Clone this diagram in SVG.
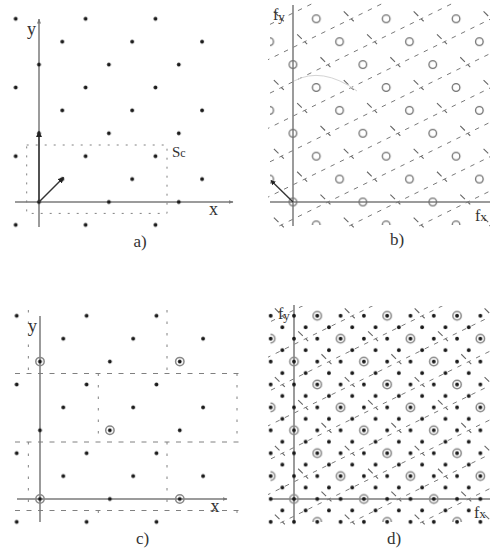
<svg xmlns="http://www.w3.org/2000/svg" width="490" height="548" viewBox="0 0 490 548">
<style>
.lbl{font-family:"Liberation Serif","Times New Roman",serif;fill:#333}
.axis{stroke:#7a7a7a;stroke-width:1.5;fill:none}
.vec{stroke:#333;stroke-width:1.4;fill:none}
.dot{fill:#1a1a1a}
.ring{fill:none;stroke:#888;stroke-width:1.5}
.hc{fill:none;stroke:#707070;stroke-width:1.3}
.cellh{stroke:#808080;stroke-width:1;stroke-dasharray:5 6.5;fill:none}
.cellv{stroke:#808080;stroke-width:1;stroke-dasharray:2.5 9;fill:none}
.sc{stroke:#808080;stroke-width:1;stroke-dasharray:2 7;fill:none}
.la{stroke:#7a7a7a;stroke-width:1;stroke-dasharray:4.5 5.884;stroke-dashoffset:7.442;fill:none}
.lb{stroke:#666;stroke-width:1.1;stroke-dasharray:3.5 18.67 6.5 4;fill:none}
</style>
<defs>
<marker id="arr" viewBox="0 0 10 10" refX="9" refY="5" markerWidth="6" markerHeight="6" markerUnits="userSpaceOnUse" orient="auto"><path d="M0,0 L10,5 L0,10 z" fill="#222"/></marker>
<marker id="arrs" viewBox="0 0 10 10" refX="9" refY="5" markerWidth="5" markerHeight="5" markerUnits="userSpaceOnUse" orient="auto"><path d="M0,0 L10,5 L0,10 z" fill="#222"/></marker>
<marker id="ax" viewBox="0 0 10 10" refX="9" refY="5" markerWidth="5" markerHeight="5" markerUnits="userSpaceOnUse" orient="auto"><path d="M0,1 L10,5 L0,9 z" fill="#7a7a7a"/></marker>
<pattern id="pa" patternUnits="userSpaceOnUse" x="27.35" y="144.75" width="69.9" height="68.7">
<circle class="dot" cx="11.65" cy="57.25" r="1.9"/><circle class="dot" cx="34.95" cy="34.35" r="1.9"/><circle class="dot" cx="58.25" cy="11.45" r="1.9"/>
</pattern>
<pattern id="pc" patternUnits="userSpaceOnUse" x="28.35" y="441.75" width="69.9" height="68.7">
<circle class="dot" cx="11.65" cy="57.25" r="1.9"/><circle class="dot" cx="34.95" cy="34.35" r="1.9"/><circle class="dot" cx="58.25" cy="11.45" r="1.9"/>
</pattern>
<pattern id="pb" patternUnits="userSpaceOnUse" x="281.35" y="190.55" width="69.9" height="68.7">
<circle class="hc" cx="11.65" cy="11.45" r="3.8"/><circle class="hc" cx="34.95" cy="34.35" r="3.8"/><circle class="hc" cx="58.25" cy="57.25" r="3.8"/>
</pattern>
<pattern id="pdr" patternUnits="userSpaceOnUse" x="282.35" y="487.55" width="69.9" height="68.7">
<circle class="ring" cx="11.65" cy="11.45" r="4.2"/><circle class="ring" cx="34.95" cy="34.35" r="4.2"/><circle class="ring" cx="58.25" cy="57.25" r="4.2"/>
</pattern>
<pattern id="pd" patternUnits="userSpaceOnUse" x="288.175" y="493.275" width="23.3" height="22.9">
<circle class="dot" cx="5.825" cy="5.725" r="1.9"/><circle class="dot" cx="17.475" cy="17.175" r="1.9"/>
</pattern>
<g id="cells">
<line class="la" x1="-454.35" y1="34.35" x2="81.55" y2="-229"/>
<line class="la" x1="-384.45" y1="34.35" x2="151.45" y2="-229"/>
<line class="la" x1="-314.55" y1="34.35" x2="221.35" y2="-229"/>
<line class="la" x1="-244.65" y1="34.35" x2="291.25" y2="-229"/>
<line class="la" x1="-174.75" y1="34.35" x2="361.15" y2="-229"/>
<line class="la" x1="-104.85" y1="34.35" x2="431.05" y2="-229"/>
<line class="la" x1="-34.95" y1="34.35" x2="500.95" y2="-229"/>
<line class="la" x1="34.95" y1="34.35" x2="570.85" y2="-229"/>
<line class="la" x1="104.85" y1="34.35" x2="640.75" y2="-229"/>
<line class="la" x1="174.75" y1="34.35" x2="710.65" y2="-229"/>
<line class="lb" x1="-267.95" y1="-229" x2="0" y2="34.35"/>
<line class="lb" x1="-198.05" y1="-229" x2="69.9" y2="34.35"/>
<line class="lb" x1="-128.15" y1="-229" x2="139.8" y2="34.35"/>
<line class="lb" x1="-58.25" y1="-229" x2="209.7" y2="34.35"/>
<line class="lb" x1="11.65" y1="-229" x2="279.6" y2="34.35"/>
<line class="lb" x1="81.55" y1="-229" x2="349.5" y2="34.35"/>
<line class="lb" x1="151.45" y1="-229" x2="419.4" y2="34.35"/>
</g>
<clipPath id="clipb"><rect x="268" y="3" width="222" height="225"/></clipPath>
<clipPath id="clipd"><rect x="268" y="306" width="222" height="219"/></clipPath>
</defs>
<rect width="490" height="548" fill="#fff"/>

<g id="panel-a">
<rect class="sc" x="26.7" y="145" width="140.3" height="68.4"/>
<line class="axis" x1="15" y1="202" x2="233" y2="202" marker-end="url(#ax)"/>
<line class="axis" x1="39" y1="227" x2="39" y2="19" marker-end="url(#ax)"/>
<rect x="8" y="10" width="202" height="222" fill="url(#pa)"/>
<line class="vec" x1="39" y1="202" x2="39" y2="131.5" marker-end="url(#arr)"/>
<line class="vec" x1="39" y1="202" x2="63.5" y2="177.5" marker-end="url(#arr)"/>
<text class="lbl" x="27" y="35" font-size="18">y</text>
<text class="lbl" x="209" y="215" font-size="18">x</text>
<text class="lbl" x="172" y="157" font-size="15">S<tspan font-size="12">c</tspan></text>
<text class="lbl" x="140" y="247" font-size="17" text-anchor="middle">a)</text>
</g>

<g id="panel-b">
<g id="cells-b" clip-path="url(#clipb)"><use href="#cells" transform="translate(293,202)"/></g>
<path d="M294,81 Q322,66 357,91" fill="none" stroke="#d4d4d4" stroke-width="1"/>
<line class="axis" x1="293" y1="226" x2="293" y2="5"/>
<line class="axis" x1="270" y1="202" x2="490" y2="202"/>
<rect x="270" y="4" width="220" height="221" fill="url(#pb)"/>
<line class="vec" x1="293" y1="202" x2="271" y2="180.5" marker-end="url(#arrs)"/>
<text class="lbl" x="273" y="20" font-size="16">f<tspan font-size="13" dy="1">y</tspan></text>
<text class="lbl" x="475" y="221" font-size="16">f<tspan font-size="13">x</tspan></text>
<text class="lbl" x="397" y="245" font-size="17" text-anchor="middle">b)</text>
</g>

<g id="panel-c">
<g id="cells-c">
<line class="cellh" x1="15" y1="373.5" x2="240" y2="373.5"/>
<line class="cellh" x1="15" y1="442" x2="240" y2="442"/>
<line class="cellh" x1="15" y1="510.5" x2="240" y2="510.5"/>
<line class="cellv" x1="28.35" y1="310" x2="28.35" y2="373.5"/>
<line class="cellv" x1="28.35" y1="442" x2="28.35" y2="510.5"/>
<line class="cellv" x1="167" y1="310" x2="167" y2="373.5"/>
<line class="cellv" x1="167" y1="442" x2="167" y2="510.5"/>
<line class="cellv" x1="98.3" y1="373.5" x2="98.3" y2="442"/>
<line class="cellv" x1="98.3" y1="510.5" x2="98.3" y2="522"/>
<line class="cellv" x1="237" y1="373.5" x2="237" y2="442"/>
<line class="cellv" x1="237" y1="510.5" x2="237" y2="522"/>
</g>
<line class="axis" x1="17" y1="499" x2="227" y2="499" marker-end="url(#ax)"/>
<line class="axis" x1="40" y1="522" x2="40" y2="316"/>
<rect x="8" y="308" width="202" height="222" fill="url(#pc)"/>
<circle class="ring" cx="40" cy="499" r="4.2"/>
<circle class="ring" cx="179.8" cy="499" r="4.2"/>
<circle class="ring" cx="109.9" cy="430.3" r="4.2"/>
<circle class="ring" cx="40" cy="361.6" r="4.2"/>
<circle class="ring" cx="179.8" cy="361.6" r="4.2"/>
<text class="lbl" x="28" y="331.5" font-size="18">y</text>
<text class="lbl" x="210.5" y="511.5" font-size="18">x</text>
<text class="lbl" x="142.5" y="543.5" font-size="17" text-anchor="middle">c)</text>
</g>

<g id="panel-d">
<g id="cells-d" clip-path="url(#clipd)"><use href="#cells" transform="translate(294,499)"/></g>
<line class="axis" x1="294" y1="522" x2="294" y2="305"/>
<line class="axis" x1="270" y1="499" x2="490" y2="499"/>
<rect x="266" y="310" width="224" height="215" fill="url(#pd)"/>
<rect x="270.5" y="310" width="219.5" height="212" fill="url(#pdr)"/>
<text class="lbl" x="278" y="319" font-size="16">f<tspan font-size="13" dy="1">y</tspan></text>
<text class="lbl" x="474" y="518" font-size="16">f<tspan font-size="13">x</tspan></text>
<text class="lbl" x="394" y="543.5" font-size="17" text-anchor="middle">d)</text>
</g>
</svg>
